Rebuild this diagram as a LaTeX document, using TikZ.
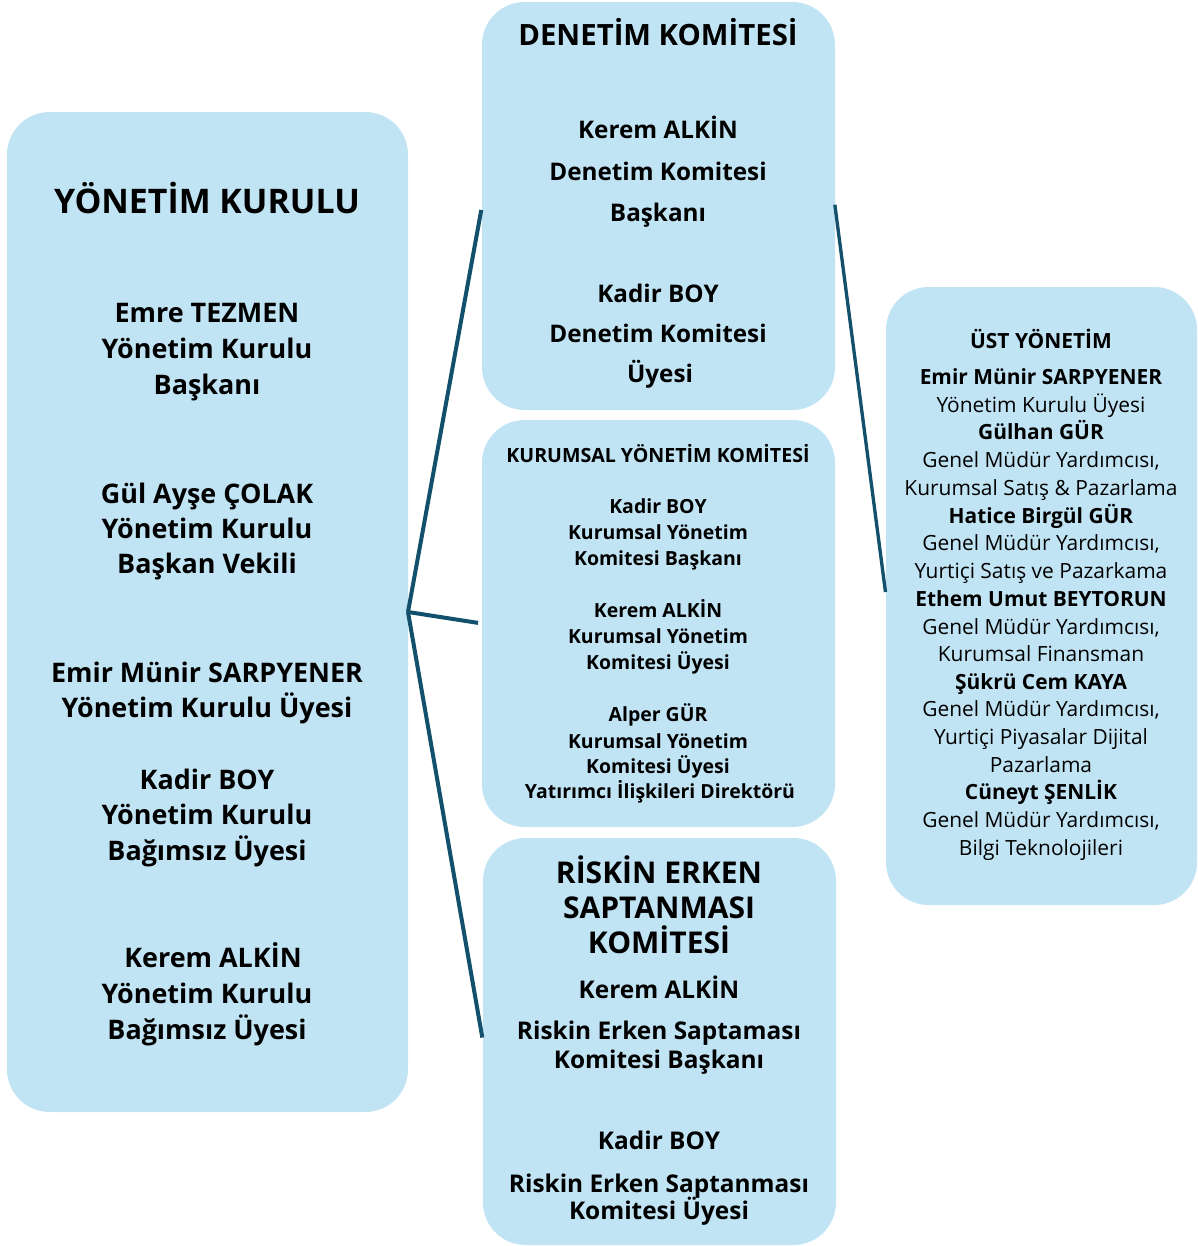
\documentclass[tikz,border=0pt]{standalone}
\usepackage{fontspec}
\setmainfont{Open Sans}[Ligatures=NoCommon]
\usetikzlibrary{positioning}

\definecolor{boxblue}{RGB}{193,228,244}
\definecolor{linkblue}{RGB}{18,80,107}

\tikzset{
  panel/.style={rectangle, rounded corners=32pt, fill=boxblue, draw=none, inner sep=0pt, outer sep=0pt},
  link/.style={line width=3pt, linkblue, shorten >=3pt},
  bigtitle/.style={anchor=base, font=\bfseries\fontsize{25.4}{28}\selectfont},
  midtitle/.style={anchor=base, font=\bfseries\fontsize{22}{24}\selectfont},
  risktitle/.style={anchor=base, font=\bfseries\fontsize{22.5}{24}\selectfont},
  smalltitle/.style={anchor=base, font=\bfseries\fontsize{14.7}{16}\selectfont},
  bigname/.style={anchor=base, font=\bfseries\fontsize{20.2}{23}\selectfont},
  midname/.style={anchor=base, font=\bfseries\fontsize{18.2}{21}\selectfont},
  riskname/.style={anchor=base, font=\bfseries\fontsize{18.3}{21}\selectfont},
  smallname/.style={anchor=base, font=\bfseries\fontsize{14.6}{17}\selectfont},
  topname/.style={anchor=base, font=\bfseries\fontsize{15.7}{17}\selectfont},
  toprole/.style={anchor=base, font=\fontsize{15.7}{17}\selectfont}
}

\begin{document}
\begin{tikzpicture}[x=0.75pt, y=-0.75pt]

\useasboundingbox (0,0) rectangle (1197,1246);

% panels
\node[panel, minimum width=300.75pt, minimum height=750pt] (yk) at (207.5,612) {};
\node[panel, minimum width=264.75pt, minimum height=306pt] (dk) at (658.5,206) {};
\node[panel, minimum width=264.75pt, minimum height=305.25pt] (kyk) at (658.5,623.5) {};
\node[panel, minimum width=264.75pt, minimum height=305.25pt] (rk) at (659.5,1041.5) {};
\node[panel, minimum width=233.25pt, minimum height=463.5pt] (uy) at (1041.5,596) {};

% links
\draw[link] (yk.east) -- (dk.west);
\draw[link] (yk.east) -- (kyk.west);
\draw[link] (yk.east) -- (rk.west);
\draw[link, line width=2.5pt, shorten <=-1pt] (dk.east) -- (uy.west);

% yonetim kurulu
\node[bigtitle] (ykt) at (207,213) {YÖNETİM KURULU};
\node[bigname] (yk1a) at (207,322) {Emre TEZMEN};
\node[bigname] (yk1b) at (207,358) {Yönetim Kurulu};
\node[bigname] (yk1c) at (207,394) {Başkanı};
\node[bigname] (yk2a) at (207,503) {Gül Ayşe ÇOLAK};
\node[bigname] (yk2b) at (207,538) {Yönetim Kurulu};
\node[bigname] (yk2c) at (207,573) {Başkan Vekili};
\node[bigname] (yk3a) at (207,682) {Emir Münir SARPYENER};
\node[bigname] (yk3b) at (207,717) {Yönetim Kurulu Üyesi};
\node[bigname] (yk4a) at (207,789) {Kadir BOY};
\node[bigname] (yk4b) at (207,824) {Yönetim Kurulu};
\node[bigname] (yk4c) at (207,860) {Bağımsız Üyesi};
\node[bigname] (yk5a) at (213,967) {Kerem ALKİN};
\node[bigname] (yk5b) at (207,1003) {Yönetim Kurulu};
\node[bigname] (yk5c) at (207,1039) {Bağımsız Üyesi};

% denetim komitesi
\node[midtitle] (dkt) at (658,45) {DENETİM KOMİTESİ};
\node[midname] (dk1a) at (658,138) {Kerem ALKİN};
\node[midname] (dk1b) at (658,180) {Denetim Komitesi};
\node[midname] (dk1c) at (658,221) {Başkanı};
\node[midname] (dk2a) at (658,302) {Kadir BOY};
\node[midname] (dk2b) at (658,342) {Denetim Komitesi};
\node[midname] (dk2c) at (660,382) {Üyesi};

% kurumsal yonetim komitesi
\node[smalltitle] (kykt) at (658,462) {KURUMSAL YÖNETİM KOMİTESİ};
\node[smallname] (kyk1a) at (658,513) {Kadir BOY};
\node[smallname] (kyk1b) at (658,539) {Kurumsal Yönetim};
\node[smallname] (kyk1c) at (658,565) {Komitesi Başkanı};
\node[smallname] (kyk2a) at (658,617) {Kerem ALKİN};
\node[smallname] (kyk2b) at (658,643) {Kurumsal Yönetim};
\node[smallname] (kyk2c) at (658,669) {Komitesi Üyesi};
\node[smallname] (kyk3a) at (658,721) {Alper GÜR};
\node[smallname] (kyk3b) at (658,748) {Kurumsal Yönetim};
\node[smallname] (kyk3c) at (658,773) {Komitesi Üyesi};
\node[smallname] (kyk3d) at (660,798) {Yatırımcı İlişkileri Direktörü};

% riskin erken saptanmasi komitesi
\node[risktitle] (rkt1) at (659,883) {RİSKİN ERKEN};
\node[risktitle] (rkt2) at (659,918) {SAPTANMASI};
\node[risktitle] (rkt3) at (659,953) {KOMİTESİ};
\node[riskname] (rk1a) at (659,998) {Kerem ALKİN};
\node[riskname] (rk1b) at (659,1039) {Riskin Erken Saptaması};
\node[riskname] (rk1c) at (659,1068) {Komitesi Başkanı};
\node[riskname] (rk2a) at (659,1149) {Kadir BOY};
\node[riskname] (rk2b) at (659,1192) {Riskin Erken Saptanması};
\node[riskname] (rk2c) at (659,1219) {Komitesi Üyesi};

% ust yonetim
\node[topname] (uyt) at (1041,348) {ÜST YÖNETİM};
\node[topname] (uy1a) at (1041,384) {Emir Münir SARPYENER};
\node[toprole] (uy1b) at (1041,412) {Yönetim Kurulu Üyesi};
\node[topname] (uy2a) at (1041,439) {Gülhan GÜR};
\node[toprole] (uy2b) at (1041,467) {Genel Müdür Yardımcısı,};
\node[toprole] (uy2c) at (1041,495) {Kurumsal Satış \& Pazarlama};
\node[topname] (uy3a) at (1041,523) {Hatice Birgül GÜR};
\node[toprole] (uy3b) at (1041,550) {Genel Müdür Yardımcısı,};
\node[toprole] (uy3c) at (1041,578) {Yurtiçi Satış ve Pazarkama};
\node[topname] (uy4a) at (1041,606) {Ethem Umut BEYTORUN};
\node[toprole] (uy4b) at (1041,634) {Genel Müdür Yardımcısı,};
\node[toprole] (uy4c) at (1041,661) {Kurumsal Finansman};
\node[topname] (uy5a) at (1041,689) {Şükrü Cem KAYA};
\node[toprole] (uy5b) at (1041,716) {Genel Müdür Yardımcısı,};
\node[toprole] (uy5c) at (1041,744) {Yurtiçi Piyasalar Dijital};
\node[toprole] (uy5d) at (1041,772) {Pazarlama};
\node[topname] (uy6a) at (1041,799) {Cüneyt ŞENLİK};
\node[toprole] (uy6b) at (1041,827) {Genel Müdür Yardımcısı,};
\node[toprole] (uy6c) at (1041,855) {Bilgi Teknolojileri};

\end{tikzpicture}
\end{document}
